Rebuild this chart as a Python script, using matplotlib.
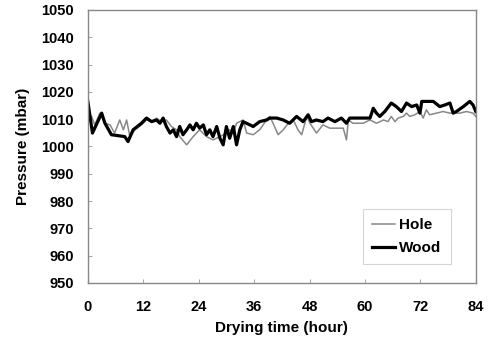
import matplotlib
matplotlib.use('Agg')
import matplotlib.pyplot as plt

# Hole (thin gray)
hole_t = [0.0, 0.8, 1.5, 2.6, 3.7, 4.8, 5.8, 6.9, 7.7, 8.4, 9.1, 10.2, 11.6, 12.7,
          13.8, 14.9, 15.9, 17.0, 18.1, 19.2, 19.9, 21.4, 22.8, 24.2, 25.7, 27.1,
          28.6, 30.0, 30.7, 31.5, 32.2, 33.6, 34.4, 35.8, 37.2, 38.7, 39.4, 40.1,
          41.2, 42.3, 43.4, 44.5, 45.5, 46.3, 47.4, 48.1, 49.5, 50.9, 52.4, 55.3,
          56.0, 56.4, 57.4, 59.6, 61.1, 62.5, 64.0, 65.0, 65.7, 66.5, 67.2, 68.3,
          69.0, 69.7, 70.8, 71.9, 72.6, 73.3, 74.0, 75.5, 76.9, 78.4, 80.5, 82.0,
          83.4, 84.0]
hole_p = [1012.2, 1011.0, 1007.9, 1012.2, 1008.5, 1007.9, 1004.9, 1009.7, 1006.1,
          1009.7, 1003.6, 1006.1, 1007.9, 1009.7, 1009.1, 1010.4, 1009.1, 1009.7,
          1007.3, 1006.1, 1003.6, 1000.6, 1003.6, 1006.1, 1003.6, 1002.4, 1003.6,
          1004.9, 1006.1, 1004.9, 1008.5, 1009.7, 1004.9, 1004.3, 1006.1, 1009.7,
          1011.0, 1008.5, 1004.3, 1006.1, 1008.5, 1009.7, 1006.1, 1004.3, 1011.0,
          1008.5, 1004.9, 1007.9, 1006.7, 1006.7, 1002.4, 1009.7, 1008.5, 1008.5,
          1009.7, 1008.5, 1009.7, 1009.1, 1011.0, 1009.1, 1010.4, 1011.0, 1012.2,
          1011.0, 1011.6, 1012.8, 1010.4, 1013.4, 1011.6, 1012.2, 1012.8, 1012.2,
          1012.2, 1012.8, 1012.2, 1011.0]

# Wood (thick black)
wood_t = [0.0, 1.0, 3.0, 3.7, 5.1, 8.0, 8.7, 9.8, 11.6, 12.7, 13.8, 14.9, 15.6,
          16.3, 17.0, 17.8, 18.5, 19.2, 19.9, 20.6, 21.4, 22.1, 22.8, 23.5, 24.2,
          25.0, 25.7, 26.4, 27.1, 27.9, 28.6, 29.3, 30.0, 30.7, 31.5, 32.2, 32.9,
          33.6, 35.1, 35.8, 37.2, 38.7, 39.4, 40.9, 42.3, 43.7, 45.2, 46.6, 47.7,
          48.4, 49.5, 50.9, 52.0, 53.5, 54.9, 56.0, 56.7, 58.2, 61.1, 61.8, 62.5,
          63.2, 64.3, 65.7, 66.8, 67.9, 69.0, 70.1, 71.2, 71.9, 72.3, 73.3, 74.8,
          76.2, 77.3, 78.4, 79.1, 79.8, 81.3, 82.7, 83.4, 84.0]
wood_p = [1016.5, 1004.9, 1012.2, 1008.5, 1004.3, 1003.6, 1001.8, 1006.1, 1008.5,
          1010.4, 1009.1, 1009.7, 1008.5, 1010.4, 1007.3, 1004.9, 1006.1, 1003.6,
          1007.3, 1004.3, 1006.1, 1007.9, 1006.1, 1008.5, 1006.7, 1007.9, 1004.3,
          1006.1, 1003.6, 1007.3, 1003.0, 1000.6, 1007.3, 1003.0, 1007.3, 1000.6,
          1006.1, 1009.1, 1007.9, 1007.3, 1009.1, 1009.7, 1010.4, 1010.4, 1009.7,
          1008.5, 1011.0, 1009.1, 1011.6, 1009.1, 1009.7, 1009.1, 1010.4, 1009.1,
          1010.4, 1008.5, 1010.4, 1010.4, 1010.4, 1014.0, 1012.2, 1011.0, 1012.8,
          1015.9, 1014.6, 1012.8, 1015.9, 1014.6, 1015.2, 1012.2, 1016.5, 1016.5,
          1016.5, 1014.6, 1015.2, 1015.9, 1012.2, 1012.8, 1014.6, 1016.5, 1015.2,
          1012.8]

x_ticks = [0, 12, 24, 36, 48, 60, 72, 84]
y_ticks = list(range(950, 1051, 10))

plt.rcParams['font.family'] = ['Liberation Sans', 'DejaVu Sans']
plt.rcParams['font.weight'] = 'bold'

fig = plt.figure(figsize=(4.88, 3.43), dpi=100)
ax = fig.add_axes([0.180, 0.175, 0.795, 0.796])

ax.plot(hole_t, hole_p, color='#888888', lw=1.1, label='Hole',
        solid_joinstyle='round')
ax.plot(wood_t, wood_p, color='black', lw=2.3, label='Wood',
        solid_joinstyle='round')

ax.set_xlim(0, 84)
ax.set_ylim(950, 1050)
ax.set_xticks(x_ticks)
ax.set_yticks(y_ticks)
ax.tick_params(direction='in', length=3, color='#aaaaaa', labelsize=10.5)
ax.tick_params(axis='x', pad=12)
ax.tick_params(axis='y', pad=10)
for s in ax.spines.values():
    s.set_color('#888888')
    s.set_linewidth(1.0)

ax.set_xlabel('Drying time (hour)', fontsize=11, fontweight='bold', labelpad=5)
ax.set_ylabel('Pressure (mbar)', fontsize=11, fontweight='bold', labelpad=8)

leg = ax.legend(loc='lower right', bbox_to_anchor=(0.955, 0.04), fancybox=False,
                prop={'weight': 'bold', 'size': 11}, handlelength=1.5,
                borderpad=0.6, labelspacing=0.6, handletextpad=0.3)
leg.get_frame().set_edgecolor('#cccccc')
leg.get_frame().set_linewidth(0.8)

fig.savefig('out.png', dpi=100)
